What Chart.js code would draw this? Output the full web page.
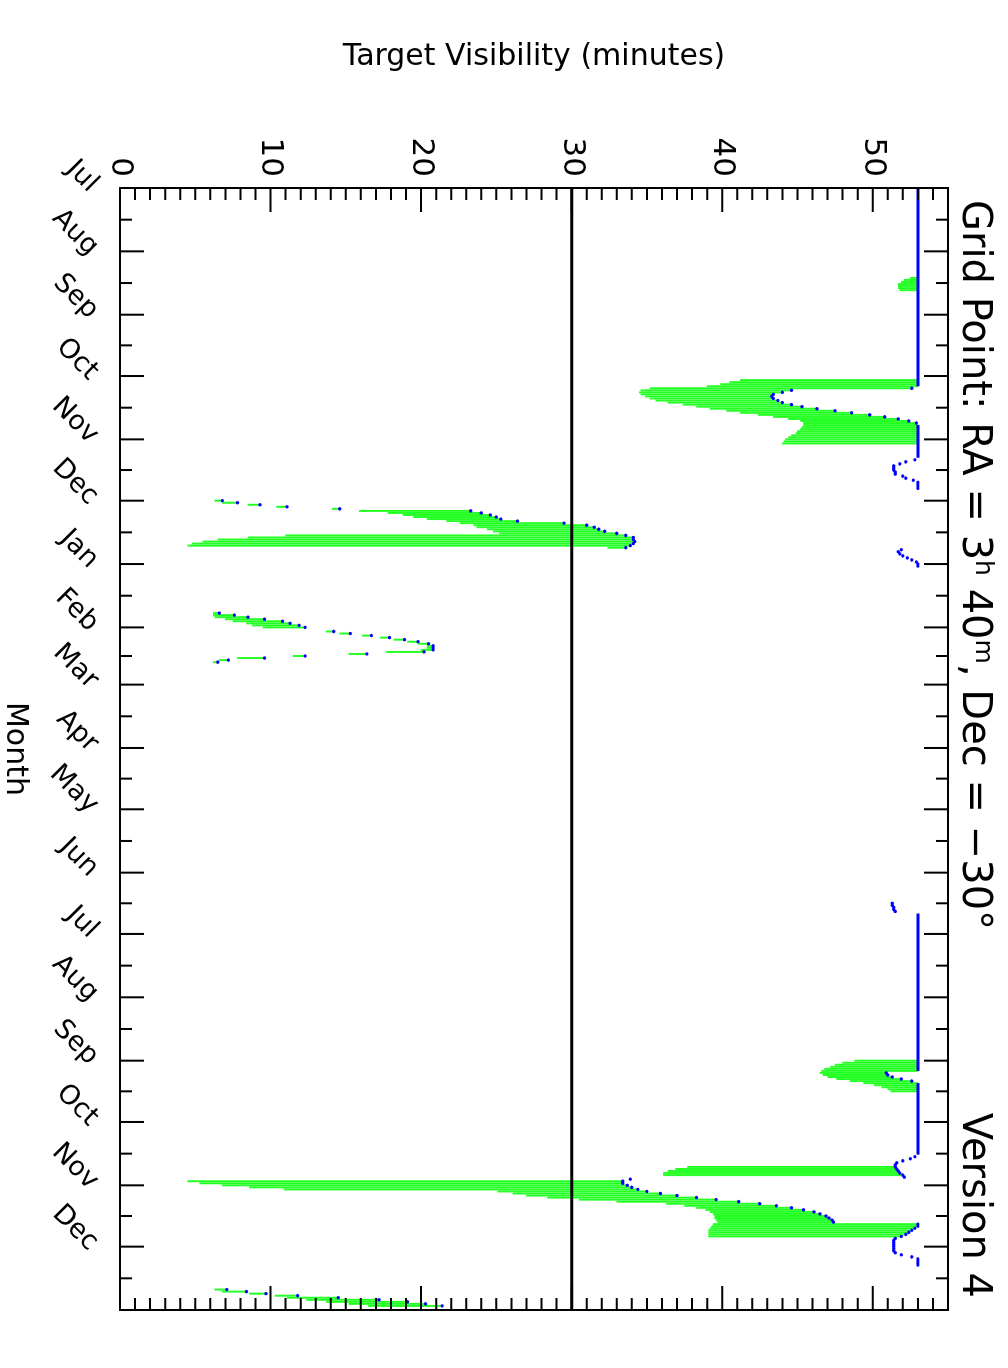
<!DOCTYPE html>
<html>
<head>
<meta charset="utf-8">
<title>Target Visibility</title>
<script src="https://cdn.jsdelivr.net/npm/chart.js@4.4.0/dist/chart.umd.min.js"></script>
<style>
  html, body { margin: 0; padding: 0; background: #fff; overflow: hidden; }
  /* chart is drawn landscape, then turned a quarter clockwise like the original plot */
  #wrap {
    position: absolute; left: 0; top: 0;
    width: 1368px; height: 1008px;
    transform-origin: 0 0;
    transform: translate(1008px, 0) rotate(90deg);
  }
</style>
</head>
<body>
<div id="wrap"><canvas id="vis" width="1368" height="1008"></canvas></div>
<script>
// month axis (day offsets from 1 Jul)
const monthLabels = ['Jul','Aug','Sep','Oct','Nov','Dec','Jan','Feb','Mar','Apr','May','Jun','Jul','Aug','Sep','Oct','Nov','Dec',''];
const monthStarts = [0,31,62,92,123,153,184,215,243,274,304,335,365,396,427,457,488,518,549];
const minuteTicks = [0,10,20,30,40,50];

const FULL = 53;   // full visibility level
const LIMIT = 30;  // reference line

// blue: stretches sitting at full visibility [fromDay, toDay]
const flatRuns = [[0,97],[116,132],[355,432],[438,473]];

// blue: daily values, run i starts on blueStart[i]
const blueStart = [98, 133, 153, 177, 208, 217, 350, 433, 474, 485, 507, 539];
const blueVals = [
  [52.6,44.6,44.0,43.4,43.3,43.4,43.7,44.0,44.6,45.3,46.3,47.5,48.6,49.8,50.8,51.7,52.4,52.9],
  [52.8,52.2,51.8,51.4,51.4,51.4,51.5,51.5,52.0,52.2,52.7,53.0,53.0,53.0,53.0],
  [6.8,7.8,9.3,11.1,14.6,23.3,24.0,24.6,25.0,25.3,26.4,29.5,31.0,31.5,31.8,32.2,33.0,33.6,34.1,34.1,34.2,34.1,33.9,33.6],
  [51.9,51.7,51.8,52.0,52.3,52.6,52.9,53.0,53.0],
  [6.6,7.6,8.5,9.6,10.8,11.3,11.9,12.3],
  [14.2,15.3,16.7,17.9,18.9,19.8,20.5,20.8,20.8,20.8,20.2,16.4,12.3,9.6,7.2,6.5],
  [51.3,51.3,51.4,51.4,51.5],
  [50.9,51.0,51.3,51.9,52.6],
  [52.8,52.5,52.0,51.6,51.5,51.5,51.6,51.7,51.8,52.0,52.1],
  [33.9,33.4,33.4,33.7,34.0,34.4,35.0,35.9,37.0,38.3,39.6,41.1,42.5,43.6,44.6,45.4,46.1,46.5,46.9,47.1,47.3,47.4],
  [53.0,53.0,52.8,52.6,52.4,52.2,51.9,51.5,51.4,51.4,51.4,51.4,51.4,51.4,51.5,51.9,52.6,53.0,53.0,53.0,53.0],
  [7.1,8.4,9.7,11.8,14.5,17.2,19.1,20.3,21.4]
];

// green: lowest visibility of the day; bar reaches up to that day's blue value
const greenStart = [44, 94, 153, 208, 217, 427, 479, 486, 539];
const greenLow = [
  [52.5,52.1,51.9,51.7,51.7,51.7,51.8],
  [41.2,40.5,39.9,39.0,35.2,34.6,34.5,34.6,34.9,35.2,35.6,36.4,37.4,38.3,39.2,40.3,41.2,42.4,43.4,44.4,45.2,45.4,45.4,45.3,45.2,45.0,44.9,44.6,44.4,44.2,44.1,44.0],
  [6.3,6.8,8.5,10.4,14.1,15.9,17.8,18.8,19.5,20.4,21.7,22.6,23.5,23.7,24.4,24.8,25.2,11.0,8.5,6.5,5.5,4.8,4.5,32.4],
  [6.2,6.2,6.3,7.0,7.5,8.4,8.8,9.5],
  [13.7,14.6,16.1,17.3,18.2,19.1,19.8,20.4,20.4,20.0,17.7,15.2,11.5,7.8,6.6,6.2],
  [48.8,48.0,47.5,47.2,46.8,46.6,46.5,46.7,47.0,47.6,48.5,49.4,50.1,50.6,51.0,51.2],
  [37.7,36.9,36.4,36.1,36.1],
  [4.5,5.3,6.8,8.6,10.9,25.1,26.1,27.0,28.4,30.5,33.0,36.3,37.5,38.3,38.9,39.2,39.4,39.5,39.5,39.6,39.7,39.4,39.3,39.2,39.1,39.1,39.1,39.1],
  [6.3,6.8,8.6,10.3,11.1,12.4,13.7,15.2,16.5]
];

const family = '"DejaVu Sans", sans-serif';

// day -> blue value
const blueAt = {};
flatRuns.forEach(([a, b]) => { for (let d = a; d <= b; d++) blueAt[d] = FULL; });
blueStart.forEach((s, i) => blueVals[i].forEach((v, j) => { blueAt[s + j] = v; }));

const blueDots = [];
blueStart.forEach((s, i) => blueVals[i].forEach((v, j) => blueDots.push({ x: s + j, y: v })));

const blueLine = [];
flatRuns.forEach(([a, b]) => blueLine.push({ x: a, y: FULL }, { x: b, y: FULL }, { x: b + 0.5, y: null }));

const greenBars = [];
greenStart.forEach((s, i) => greenLow[i].forEach((lo, j) => greenBars.push({ x: s + j, y: [lo, blueAt[s + j]] })));

// boxed frame with inward ticks on all four sides
const frameTicks = {
  id: 'frameTicks',
  afterDraw(chart) {
    const { ctx, chartArea: a, scales: { x, y } } = chart;
    ctx.save();
    ctx.strokeStyle = '#000';
    ctx.lineWidth = 2;
    ctx.beginPath();
    for (let v = 1; v < 55; v++) {
      const py = y.getPixelForValue(v);
      const len = v % 10 === 0 ? 24 : 12;
      ctx.moveTo(a.left, py); ctx.lineTo(a.left + len, py);
      ctx.moveTo(a.right, py); ctx.lineTo(a.right - len, py);
    }
    for (let i = 0; i < monthStarts.length - 1; i++) {
      const mid = (monthStarts[i] + monthStarts[i + 1]) / 2;
      [[monthStarts[i], 24], [mid, 12]].forEach(([d, len]) => {
        if (d === 0) return;
        const px = x.getPixelForValue(d);
        ctx.moveTo(px, a.bottom); ctx.lineTo(px, a.bottom - len);
        ctx.moveTo(px, a.top); ctx.lineTo(px, a.top + len);
      });
    }
    ctx.stroke();
    ctx.strokeRect(a.left, a.top, a.right - a.left, a.bottom - a.top);
    ctx.restore();
  }
};

// heading with superscript h / m
const heading = {
  id: 'heading',
  afterDraw(chart) {
    const { ctx, chartArea: a } = chart;
    const big = '40px ' + family, small = '25px ' + family;
    const base = 45;
    const parts = [['Grid Point: RA = 3', big, 0], ['h', small, -13], [' 40', big, 0], ['m', small, -13], [', Dec = \u221230\u00b0', big, 0]];
    ctx.save();
    ctx.fillStyle = '#000';
    ctx.textBaseline = 'alphabetic';
    let px = a.left + 12;
    parts.forEach(([t, f, dy]) => {
      ctx.font = f;
      ctx.fillText(t, px, base + dy);
      px += ctx.measureText(t).width;
    });
    ctx.font = big;
    ctx.textAlign = 'right';
    ctx.fillText('Version 4', a.right - 12, base);
    ctx.restore();
  }
};

new Chart(document.getElementById('vis'), {
  type: 'bar',
  data: {
    datasets: [
      { type: 'line', data: blueDots, showLine: false, pointRadius: 1.7, pointBackgroundColor: '#0000ff', pointBorderWidth: 0, order: 0 },
      { type: 'line', data: blueLine, borderColor: '#0000ff', borderWidth: 3, pointRadius: 0, spanGaps: false, order: 1 },
      { type: 'line', data: [{ x: 0, y: LIMIT }, { x: 549, y: LIMIT }], borderColor: '#000', borderWidth: 3, pointRadius: 0, order: 2 },
      { type: 'bar', data: greenBars, backgroundColor: '#22ff22', borderWidth: 0, barThickness: 1.3, grouped: false, order: 3 }
    ]
  },
  options: {
    responsive: false,
    animation: false,
    devicePixelRatio: 1,
    events: [],
    layout: { padding: { top: 60, right: 58, left: 0, bottom: 0 } },
    plugins: { legend: { display: false }, tooltip: { enabled: false } },
    scales: {
      x: {
        type: 'linear', min: 0, max: 549, offset: false,
        grid: { display: false, drawTicks: false },
        border: { display: false },
        afterBuildTicks: s => { s.ticks = monthStarts.map(v => ({ value: v })); },
        afterFit: s => { s.height = 120; },
        ticks: {
          autoSkip: false, minRotation: 45, maxRotation: 45, padding: 15,
          color: '#000', font: { family, size: 27 },
          callback: (v, i) => monthLabels[i]
        },
        title: { display: true, text: 'Month', color: '#000', font: { family, size: 30, lineHeight: 1 }, padding: { top: 0, bottom: 0 } }
      },
      y: {
        min: 0, max: 55,
        grid: { display: false, drawTicks: false },
        border: { display: false },
        afterBuildTicks: s => { s.ticks = minuteTicks.map(v => ({ value: v })); },
        afterFit: s => { s.width = 188; },
        ticks: { padding: 11, color: '#000', font: { family, size: 31 } },
        title: { display: true, text: 'Target Visibility (minutes)', color: '#000', font: { family, size: 30 }, padding: { top: 39, bottom: 0 } }
      }
    }
  },
  plugins: [frameTicks, heading]
});
</script>
</body>
</html>
